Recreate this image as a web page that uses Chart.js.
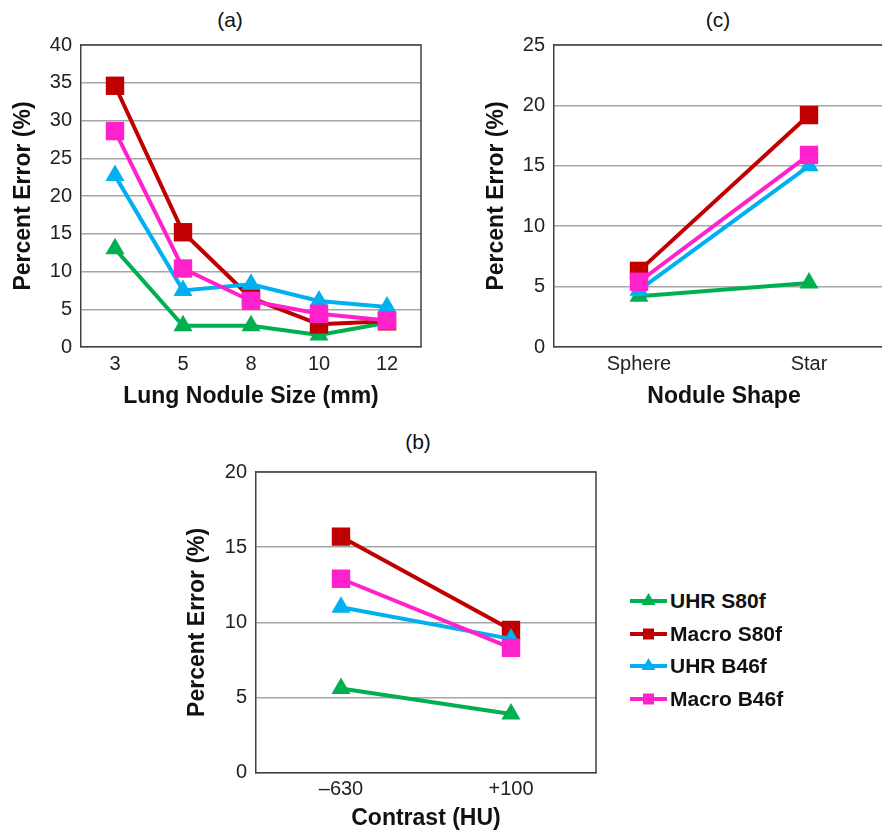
<!DOCTYPE html>
<html>
<head>
<meta charset="utf-8">
<script src="https://cdn.jsdelivr.net/npm/chart.js@4.4.1/dist/chart.umd.min.js"></script>
<style>
  html, body { margin: 0; padding: 0; background: #fff; overflow: hidden; }
  #page { position: relative; width: 882px; height: 832px; overflow: hidden; font-family: 'Liberation Sans', Arial, sans-serif; }
  #page canvas.chart { position: absolute; }
  .panel-title { position: absolute; width: 100px; text-align: center; font-size: 21px; line-height: 24px; color: #111; }
  .legend-row { position: absolute; left: 630px; height: 24px; line-height: 24px; display: flex; align-items: center; font-weight: bold; font-size: 21px; color: #111; }
  .legend-row canvas { margin-right: 3px; }
</style>
</head>
<body>
<div id="page">
  <div class="panel-title" style="left:180px; top:8px;">(a)</div>
  <div class="panel-title" style="left:668px; top:8px;">(c)</div>
  <div class="panel-title" style="left:368px; top:430px;">(b)</div>
  <canvas class="chart" id="chartA" width="441" height="420" style="left:0; top:0;"></canvas>
  <canvas class="chart" id="chartC" width="421" height="420" style="left:473px; top:0;"></canvas>
  <canvas class="chart" id="chartB" width="426" height="422" style="left:174px; top:420px;"></canvas>
  <div id="legend"></div>
</div>
<script>
// series order as in the legend
const seriesNames = ['UHR S80f', 'Macro S80f', 'UHR B46f', 'Macro B46f'];

// (a) lung nodule size
const sizeLabels = ['3', '5', '8', '10', '12'];
const sizeUhrS80 = [13.0, 2.8, 2.8, 1.6, 3.2];
const sizeMacroS80 = [34.6, 15.2, 6.5, 3.0, 3.4];
const sizeUhrB46 = [22.7, 7.5, 8.3, 6.1, 5.3];
const sizeMacroB46 = [28.6, 10.4, 6.1, 4.4, 3.5];
const sizeTicks = [0, 40, 5];

// (c) nodule shape
const shapeLabels = ['Sphere', 'Star'];
const shapeUhrS80 = [4.2, 5.3];
const shapeMacroS80 = [6.3, 19.2];
const shapeUhrB46 = [4.7, 15.0];
const shapeMacroB46 = [5.4, 15.9];
const shapeTicks = [0, 25, 5];

// (b) contrast
const contrastLabels = ['\u2013630', '+100'];
const contrastUhrS80 = [5.6, 3.9];
const contrastMacroS80 = [15.7, 9.5];
const contrastUhrB46 = [11.0, 8.9];
const contrastMacroB46 = [12.9, 8.3];
const contrastTicks = [0, 20, 5];

const colors = ['#00B050', '#C00000', '#00B0F0', '#FF22CC'];
const markers = ['triangle', 'rect', 'triangle', 'rect'];
const FONT = "'Liberation Sans', Arial, sans-serif";

// top and right edges of the plot box
const framePlugin = {
  id: 'frame',
  beforeDatasetsDraw(chart) {
    const { ctx, chartArea: a } = chart;
    ctx.save();
    ctx.strokeStyle = '#404040';
    ctx.lineWidth = 1.5;
    ctx.beginPath();
    ctx.moveTo(a.left, a.top);
    ctx.lineTo(a.right, a.top);
    ctx.lineTo(a.right, a.bottom);
    ctx.stroke();
    ctx.restore();
  }
};

const makeChart = (id, labels, series, ticks, xTitle, box) => {
  const datasets = series.map((data, i) => ({
    label: seriesNames[i],
    data: data,
    borderColor: colors[i],
    backgroundColor: colors[i],
    borderWidth: 4,
    pointStyle: markers[i],
    pointRadius: markers[i] === 'rect' ? 13 : 11,
    pointBorderWidth: 0,
    pointHoverRadius: markers[i] === 'rect' ? 13 : 11,
    order: series.length - i,
    tension: 0
  }));
  return new Chart(document.getElementById(id), {
    type: 'line',
    data: { labels: labels, datasets: datasets },
    plugins: [framePlugin],
    options: {
      responsive: false,
      animation: false,
      layout: { autoPadding: false, padding: { top: box.top, right: box.right, left: 0, bottom: 0 } },
      plugins: { legend: { display: false }, tooltip: { enabled: false }, title: { display: false } },
      scales: {
        x: {
          offset: true,
          grid: { display: false, drawTicks: false },
          border: { display: true, color: '#404040', width: 1.5 },
          ticks: { color: '#222', font: { family: FONT, size: 20 }, padding: 5, maxRotation: 0 },
          title: { display: true, text: xTitle, color: '#111', font: { family: FONT, size: 23, weight: 'bold' }, padding: { top: 0, bottom: 9.2 } },
          afterFit: (scale) => { scale.height = box.xH; }
        },
        y: {
          min: ticks[0],
          max: ticks[1],
          ticks: { stepSize: ticks[2], color: '#222', font: { family: FONT, size: 20 }, padding: 9 },
          grid: { color: '#a6a6a6', lineWidth: 1.5, drawTicks: false },
          border: { display: true, color: '#404040', width: 1.5 },
          title: { display: true, text: 'Percent Error (%)', color: '#111', font: { family: FONT, size: 23, weight: 'bold' }, padding: { top: 9.5, bottom: 0 } },
          afterFit: (scale) => { scale.width = box.yW; }
        }
      }
    }
  });
};

makeChart('chartA', sizeLabels, [sizeUhrS80, sizeMacroS80, sizeUhrB46, sizeMacroB46], sizeTicks,
  'Lung Nodule Size (mm)', { top: 45, right: 20, yW: 81, xH: 73 });
makeChart('chartC', shapeLabels, [shapeUhrS80, shapeMacroS80, shapeUhrB46, shapeMacroB46], shapeTicks,
  'Nodule Shape', { top: 45, right: 0, yW: 81, xH: 73 });
makeChart('chartB', contrastLabels, [contrastUhrS80, contrastMacroS80, contrastUhrB46, contrastMacroB46], contrastTicks,
  'Contrast (HU)', { top: 52, right: 4, yW: 82, xH: 69.3 });

// legend beside panel (b): line with marker, then name
const legend = document.getElementById('legend');
seriesNames.forEach((name, i) => {
  const row = document.createElement('div');
  row.className = 'legend-row';
  row.style.top = (589 + i * 32.5) + 'px';
  const icon = document.createElement('canvas');
  icon.width = 37;
  icon.height = 20;
  const c = icon.getContext('2d');
  c.strokeStyle = colors[i];
  c.fillStyle = colors[i];
  c.lineWidth = 4;
  c.beginPath();
  c.moveTo(0, 10);
  c.lineTo(37, 10);
  c.stroke();
  c.beginPath();
  if (markers[i] === 'rect') {
    c.rect(13, 4.5, 11, 11);
  } else {
    c.moveTo(18.5, 2);
    c.lineTo(25.5, 14);
    c.lineTo(11.5, 14);
    c.closePath();
  }
  c.fill();
  row.appendChild(icon);
  const txt = document.createElement('span');
  txt.textContent = name;
  row.appendChild(txt);
  legend.appendChild(row);
});
</script>
</body>
</html>
